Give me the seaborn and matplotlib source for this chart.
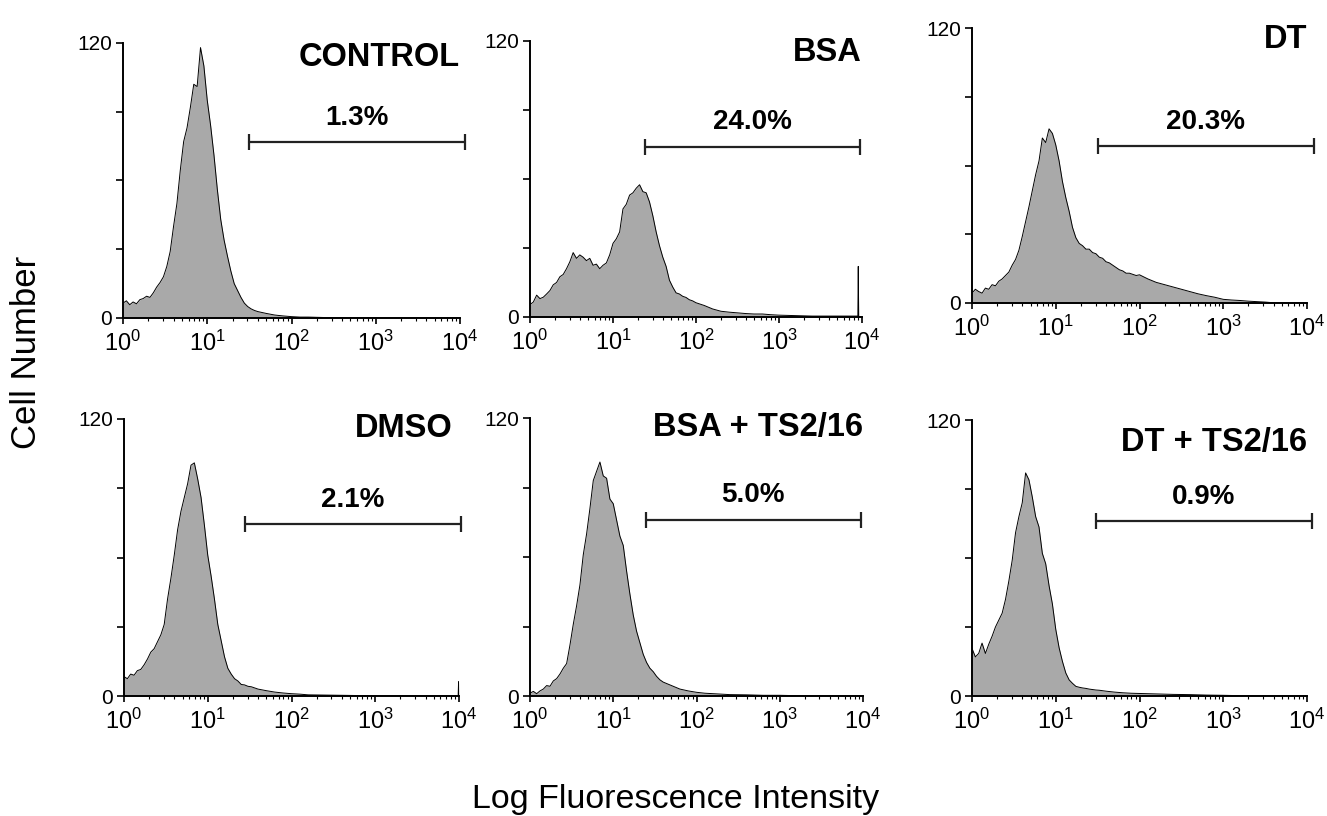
import numpy as np
import pandas as pd
import matplotlib
matplotlib.use("Agg")
import matplotlib.pyplot as plt
import seaborn as sns
from matplotlib.ticker import FixedLocator, LogLocator, NullFormatter

# ---------------- data (log10 channel position, cell count) ----------------
GRID_A = np.round(np.arange(0, 1.6001, 0.04), 2)   # dense sampling 10^0 .. 10^1.6
GRID_B = np.round(np.arange(0, 2.0001, 0.04), 2)   # dense sampling 10^0 .. 10^2.0

control_log = list(GRID_A) + [1.7, 1.8, 1.9, 2.0, 2.1, 2.2, 2.4, 2.6, 3.0, 3.5, 4.0]
control_cnt = [6.5, 7.5, 5.8, 7.0, 6.2, 8.0, 8.5, 9.5, 9.0, 11.0, 13.5, 15.5, 18.0, 22.5,
               29.0, 40.0, 50.0, 64.5, 77.0, 83.0, 92.0, 102.0, 101.0, 118.0, 110.0, 95.0,
               84.0, 71.0, 56.0, 43.0, 34.0, 27.0, 20.5, 15.0, 12.0, 9.0, 6.5, 5.0, 4.0,
               3.3, 2.8,
               2.0, 1.3, 0.9, 0.6, 0.4, 0.4, 0.2, 0.1, 0.05, 0.0, 0.0]

bsa_log = list(GRID_B) + [2.1, 2.2, 2.3, 2.4, 2.5, 2.6, 2.7, 2.8, 2.9, 3.0, 3.2, 3.4,
                          3.6, 3.8, 3.95, 3.955, 3.96, 4.0]
bsa_cnt = [5.4, 6.5, 9.5, 8.0, 8.6, 10.0, 11.5, 14.0, 15.0, 17.5, 18.5, 21.0, 24.0, 28.0,
           25.5, 27.0, 26.0, 24.5, 25.5, 22.5, 23.0, 21.0, 22.5, 23.5, 27.0, 32.0, 34.0,
           37.0, 47.0, 49.0, 53.0, 54.0, 56.0, 57.5, 54.5, 54.0, 50.0, 44.0, 37.0, 31.0,
           26.0, 22.0, 16.0, 13.0, 10.5, 10.0, 9.0, 8.5, 7.5, 7.0, 6.2,
           5.0, 3.5, 2.5, 2.1, 1.8, 1.5, 1.3, 1.3, 1.0, 0.8, 0.6, 0.4,
           0.4, 0.4, 0.4, 22.0, 0.3, 0.0]

dt_log = list(GRID_B) + [2.1, 2.2, 2.3, 2.4, 2.5, 2.6, 2.7, 2.8, 2.9, 3.0, 3.1, 3.2,
                         3.3, 3.4, 3.5, 3.6, 3.8, 4.0]
dt_cnt = [4.3, 6.0, 5.0, 4.3, 6.5, 6.0, 8.0, 7.5, 9.5, 10.5, 12.0, 13.5, 16.5, 19.0,
          23.0, 29.0, 35.5, 42.0, 49.0, 56.0, 62.0, 72.0, 70.0, 76.0, 74.0, 69.0, 62.0,
          53.0, 46.0, 40.0, 33.0, 28.5, 26.0, 25.0, 23.5, 23.5, 22.0, 21.5, 20.0, 19.5,
          18.0, 17.5, 16.5, 15.5, 14.5, 14.0, 13.0, 13.0, 12.5, 12.0, 12.3,
          10.5, 9.0, 8.0, 7.0, 6.0, 5.0, 4.0, 3.2, 2.5, 1.6, 1.3, 1.1,
          0.8, 0.6, 0.4, 0.1, 0.0, 0.0]

dmso_log = list(GRID_A) + [1.7, 1.8, 1.9, 2.0, 2.1, 2.2, 2.4, 2.6, 2.8, 3.0, 3.4, 3.8,
                           3.99, 3.995, 4.0]
dmso_cnt = [8.4, 7.5, 9.5, 9.0, 11.0, 11.5, 13.5, 16.0, 19.0, 20.5, 23.5, 26.5, 31.0,
            42.0, 51.0, 61.0, 72.0, 80.0, 86.0, 92.0, 100.0, 101.0, 94.0, 86.0, 74.0,
            61.0, 52.0, 42.0, 31.0, 24.0, 17.0, 12.0, 9.5, 7.5, 6.5, 5.0, 4.8, 4.2, 4.0,
            3.5, 3.0,
            2.3, 1.7, 1.3, 1.0, 0.8, 0.5, 0.4, 0.3, 0.2, 0.15, 0.1, 0.1,
            0.1, 6.2, 0.0]

bsa_ts_log = list(GRID_A) + [1.7, 1.8, 1.9, 2.0, 2.1, 2.2, 2.4, 2.6, 2.8, 3.0, 3.2,
                             3.5, 4.0]
bsa_ts_cnt = [1.2, 2.0, 1.0, 2.2, 3.0, 4.5, 4.2, 6.5, 7.5, 9.5, 12.0, 14.0, 22.0, 31.0,
              39.0, 48.0, 61.0, 70.0, 81.0, 93.0, 97.0, 101.0, 95.0, 94.0, 85.0, 83.0,
              76.0, 69.0, 65.0, 54.0, 44.0, 35.0, 28.0, 23.0, 18.0, 14.5, 12.0, 10.5,
              8.5, 7.0, 6.0,
              4.5, 3.0, 2.2, 1.6, 1.2, 1.0, 0.6, 0.5, 0.3, 0.3, 0.15, 0.05, 0.0]

dt_ts_log = list(GRID_A) + [1.7, 1.8, 1.9, 2.0, 2.2, 2.4, 2.6, 2.8, 3.0, 3.2, 3.5, 4.0]
dt_ts_cnt = [20.7, 17.0, 18.5, 23.0, 18.5, 22.5, 26.0, 30.0, 33.0, 36.0, 42.0, 50.0, 59.0,
             71.0, 78.0, 84.0, 97.0, 94.0, 86.5, 78.0, 73.5, 62.0, 57.5, 48.0, 40.0,
             29.0, 21.0, 15.0, 10.0, 7.0, 5.5, 4.2, 3.8, 3.5, 3.3, 3.0, 2.8, 2.6, 2.5,
             2.3, 2.1,
             1.7, 1.4, 1.2, 1.1, 0.9, 0.7, 0.6, 0.4, 0.3, 0.15, 0.05, 0.0]

titles = ["CONTROL", "BSA", "DT", "DMSO", "BSA + TS2/16", "DT + TS2/16"]
percents = ["1.3%", "24.0%", "20.3%", "2.1%", "5.0%", "0.9%"]
gate_lo = [1.50, 1.39, 1.50, 1.45, 1.39, 1.48]   # log10 start of marker bar
gate_hi = [4.06, 3.98, 4.08, 4.02, 3.97, 4.06]   # log10 end of marker bar
gate_y = [76.7, 74.0, 68.4, 74.3, 76.0, 76.0]
title_y = [113.5, 115.0, 115.0, 116.0, 116.0, 110.0]

series_log = [control_log, bsa_log, dt_log, dmso_log, bsa_ts_log, dt_ts_log]
series_cnt = [control_cnt, bsa_cnt, dt_cnt, dmso_cnt, bsa_ts_cnt, dt_ts_cnt]

# ---------------- style ----------------
sns.set_theme(style="ticks")
plt.rcParams["font.family"] = ["Liberation Sans", "DejaVu Sans"]
plt.rcParams["mathtext.fontset"] = "custom"
plt.rcParams["mathtext.rm"] = "Liberation Sans"
plt.rcParams["mathtext.it"] = "Liberation Sans"
plt.rcParams["mathtext.bf"] = "Liberation Sans:bold"

W, H = 1327, 816
fig = plt.figure(figsize=(W / 100, H / 100), dpi=100)

# axes boxes in pixels: left, right, top(120), bottom(0)
boxes = [(123, 460, 43, 318), (530, 862, 41, 317), (972, 1307, 28, 303),
         (124, 459, 419, 696), (530, 863, 418, 696), (972, 1307, 420, 696)]

FILL = "#a9a9a9"
for i, (l, r, t, b) in enumerate(boxes):
    ax = fig.add_axes([l / W, 1 - b / H, (r - l) / W, (b - t) / H])
    df = pd.DataFrame({"intensity": 10 ** np.asarray(series_log[i], dtype=float),
                       "count": np.asarray(series_cnt[i], dtype=float)})
    ax.set_xscale("log")
    ax.fill_between(df["intensity"], 0, df["count"], color=FILL, lw=0, zorder=1)
    sns.lineplot(data=df, x="intensity", y="count", ax=ax, color="black", lw=0.7,
                 sort=False, estimator=None, zorder=2)
    ax.set_xlim(1, 1e4)
    ax.set_ylim(0, 120)
    ax.set_xlabel("")
    ax.set_ylabel("")
    sns.despine(ax=ax)
    for s in ("left", "bottom"):
        ax.spines[s].set_linewidth(1.4)
        ax.spines[s].set_color("black")
    ax.yaxis.set_major_locator(FixedLocator([0, 30, 60, 90, 120]))
    ax.set_yticklabels(["0", "", "", "", "120"])
    ax.xaxis.set_major_locator(LogLocator(base=10, numticks=10))
    ax.xaxis.set_minor_locator(LogLocator(base=10, subs=np.arange(2, 10), numticks=10))
    ax.xaxis.set_minor_formatter(NullFormatter())
    ax.tick_params(axis="y", length=5, width=1.2, pad=3, labelsize=15, colors="black")
    ax.tick_params(axis="x", which="major", length=4, width=1.2, pad=5, labelsize=17,
                   colors="black")
    ax.tick_params(axis="x", which="minor", length=2, width=0.8, colors="black")
    ax.tick_params(axis="y", which="minor", length=0)
    ax.patch.set_alpha(0)

    # marker gate
    ax.plot([10 ** gate_lo[i], 10 ** gate_hi[i]], [gate_y[i], gate_y[i]], color="#222222",
            lw=1.6, marker="|", markersize=12, mew=1.6, clip_on=False, zorder=3)
    ax.text(10 ** ((gate_lo[i] + gate_hi[i]) / 2), gate_y[i] + 5, percents[i],
            ha="center", va="bottom", fontsize=20, fontweight="bold", color="black")
    ax.text(0.98 if titles[i] == "DMSO" else 1.0, title_y[i], titles[i],
            transform=ax.get_yaxis_transform(), ha="right", va="center",
            fontsize=23.5, fontweight="bold", color="black")

fig.text(676 / W, 1 - 808 / H, "Log Fluorescence Intensity", ha="center", va="baseline",
         fontsize=24.5, color="black")
fig.text(27 / W, 1 - 352 / H, "Cell Number", ha="center", va="center", rotation=90,
         fontsize=25, color="black")

fig.savefig("out.png", dpi=100, facecolor="white")
